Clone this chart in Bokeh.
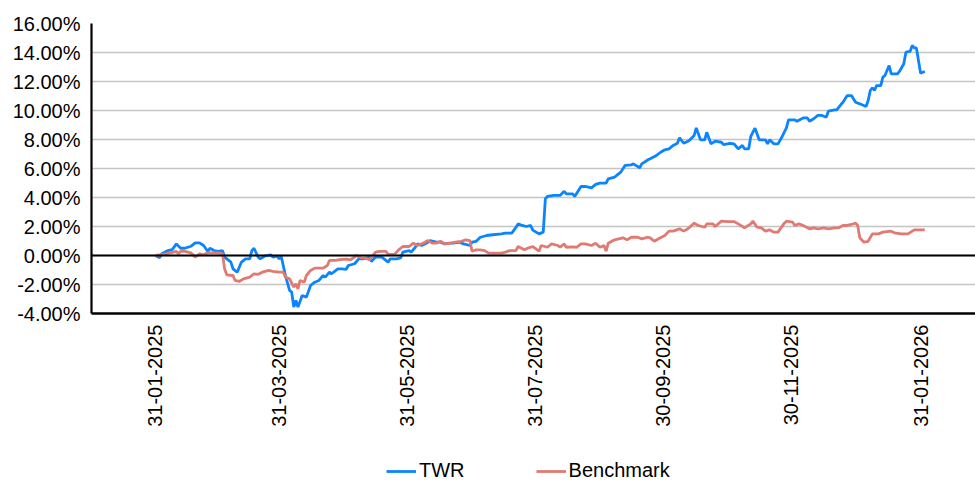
from bokeh.plotting import figure
from bokeh.models import (Range1d, FixedTicker, PrintfTickFormatter, Span, Legend, LegendItem)
from bokeh.layouts import column
from bokeh.embed import file_html
from bokeh.resources import INLINE
import math

# x = days since 31-01-2025
tick_days = [0, 59, 120, 181, 242, 303, 365]
tick_labels = ["31-01-2025", "31-03-2025", "31-05-2025", "31-07-2025",
               "30-09-2025", "30-11-2025", "31-01-2026"]
y_ticks = [-4, -2, 0, 2, 4, 6, 8, 10, 12, 14, 16]
series_names = ["TWR", "Benchmark"]

twr_day = [0, 2, 3, 6, 8, 10, 12, 14, 17, 19, 21, 23, 25, 26, 28, 30, 32, 33, 36, 37,
           39, 41, 43, 45, 46, 47, 49, 50, 52, 55, 56, 58, 59, 60, 62, 64, 65, 66, 67, 68,
           70, 72, 74, 76, 78, 80, 81, 83, 84, 87, 89, 91, 92, 95, 97, 99, 102, 103, 105, 108,
           111, 112, 115, 117, 118, 121, 122, 124, 125, 127, 130, 131, 134, 136, 138, 140, 142, 145, 147, 150,
           151, 153, 155, 158, 161, 165, 167, 170, 172, 173, 175, 177, 179, 180, 183, 185, 186, 187, 190, 193,
           195, 196, 199, 200, 203, 205, 208, 210, 212, 215, 216, 219, 220, 222, 224, 227, 228, 231, 232, 235,
           236, 239, 241, 243, 245, 247, 249, 250, 252, 254, 255, 257, 258, 259, 260, 262, 263, 265, 267, 270,
           271, 274, 276, 278, 280, 281, 283, 284, 286, 287, 288, 291, 292, 293, 295, 297, 299, 301, 302, 305,
           306, 309, 311, 312, 314, 316, 318, 320, 321, 324, 325, 327, 328, 330, 332, 334, 336, 339, 340, 341,
           342, 343, 344, 346, 347, 348, 350, 351, 354, 355, 357, 358, 360, 361, 362, 363, 365, 366, 367]
twr_val = [0.00, -0.15, 0.12, 0.34, 0.41, 0.80, 0.50, 0.50, 0.64, 0.87, 0.87, 0.69, 0.28, 0.50, 0.34, 0.28, 0.34, -0.11, -0.46, -0.92,
           -1.15, -0.46, -0.23, -0.23, 0.34, 0.50, -0.11, -0.23, -0.05, 0.05, -0.11, -0.05, -0.23, -0.05, -1.38, -2.41, -2.53, -3.56, -3.10, -3.56,
           -2.76, -2.87, -2.07, -1.84, -1.72, -1.38, -1.49, -1.15, -1.26, -0.92, -0.92, -0.95, -0.69, -0.57, -0.23, -0.23, -0.11, -0.41, -0.11, -0.11,
           -0.46, -0.23, -0.23, -0.16, 0.23, 0.34, 0.23, 0.57, 0.80, 0.69, 0.92, 1.03, 0.92, 0.92, 0.80, 0.85, 0.85, 0.92, 0.80, 0.69,
           0.92, 0.98, 1.26, 1.38, 1.43, 1.49, 1.54, 1.54, 1.95, 2.18, 2.07, 2.00, 2.07, 1.75, 1.49, 1.61, 3.91, 4.07, 4.14, 4.14,
           4.43, 4.25, 4.25, 4.07, 4.76, 4.76, 4.67, 4.90, 4.99, 4.99, 5.29, 5.40, 5.52, 5.75, 6.21, 6.25, 6.32, 6.05, 6.32, 6.60,
           6.67, 6.90, 7.12, 7.29, 7.36, 7.59, 7.74, 8.12, 7.74, 7.88, 7.98, 8.28, 8.80, 8.39, 7.98, 7.98, 8.50, 7.70, 7.88, 7.81,
           7.65, 7.74, 7.70, 7.36, 7.59, 7.36, 7.36, 8.21, 8.78, 8.39, 7.98, 7.98, 7.70, 7.98, 7.70, 7.70, 8.21, 8.80, 9.36, 9.36,
           9.26, 9.49, 9.49, 9.26, 9.43, 9.66, 9.66, 9.54, 9.95, 10.05, 10.05, 10.41, 10.57, 11.03, 11.03, 10.57, 10.46, 10.28, 10.69, 11.38,
           11.57, 11.38, 11.72, 11.72, 12.30, 12.41, 13.10, 12.53, 12.53, 12.71, 13.22, 14.02, 14.07, 14.48, 14.32, 14.32, 12.57, 12.64, 12.69]

bm_day = [0, 2, 5, 7, 10, 11, 12, 14, 17, 19, 21, 23, 25, 28, 30, 32, 33, 34, 37, 38,
          40, 42, 45, 47, 49, 51, 54, 56, 59, 61, 62, 64, 66, 67, 68, 69, 71, 72, 74, 76,
          80, 82, 83, 86, 88, 91, 93, 96, 98, 100, 102, 105, 107, 110, 111, 114, 116, 118, 121, 123,
          125, 127, 130, 132, 134, 136, 138, 141, 143, 146, 148, 150, 151, 153, 155, 157, 159, 162, 165, 167,
          169, 172, 173, 176, 178, 180, 183, 184, 187, 189, 192, 193, 195, 196, 199, 201, 203, 205, 208, 210,
          212, 214, 215, 216, 219, 221, 223, 225, 227, 230, 232, 235, 236, 238, 240, 243, 245, 247, 250, 252,
          254, 257, 259, 262, 263, 266, 267, 270, 273, 276, 278, 281, 284, 285, 287, 289, 291, 293, 295, 297,
          300, 301, 304, 305, 307, 309, 312, 314, 316, 319, 321, 324, 326, 328, 330, 332, 334, 335, 336, 338,
          340, 342, 345, 347, 351, 353, 356, 359, 362, 364, 367]
bm_val = [0.00, 0.05, 0.12, 0.18, 0.28, 0.12, 0.28, 0.28, 0.18, -0.11, 0.12, 0.05, 0.18, 0.18, 0.18, 0.12, -0.92, -1.33, -1.38, -1.72,
          -1.79, -1.61, -1.49, -1.26, -1.30, -1.15, -1.03, -1.10, -1.15, -1.15, -1.49, -1.61, -2.18, -1.95, -2.30, -1.72, -1.84, -1.38, -1.03, -0.87,
          -0.87, -0.69, -0.34, -0.34, -0.28, -0.25, -0.30, 0.00, -0.16, -0.16, -0.30, 0.23, 0.28, 0.28, 0.07, 0.07, 0.39, 0.62, 0.62, 0.85,
          0.69, 0.80, 1.03, 0.85, 0.85, 0.98, 0.80, 0.85, 0.92, 0.98, 1.08, 1.03, 0.30, 0.39, 0.39, 0.34, 0.16, 0.16, 0.16, 0.23,
          0.34, 0.34, 0.62, 0.39, 0.53, 0.62, 0.30, 0.69, 0.57, 0.80, 0.69, 0.57, 0.80, 0.57, 0.60, 0.57, 0.80, 0.80, 0.69, 0.85,
          0.57, 0.69, 0.30, 0.85, 1.08, 1.15, 1.22, 1.08, 1.26, 1.26, 1.15, 1.26, 1.22, 0.98, 1.15, 1.38, 1.68, 1.68, 1.84, 1.68,
          1.84, 2.23, 2.07, 1.95, 2.18, 2.18, 2.00, 2.37, 2.34, 2.34, 2.18, 1.91, 2.18, 2.37, 1.95, 1.91, 1.68, 1.77, 1.61, 1.61,
          2.23, 2.37, 2.30, 2.07, 2.18, 2.07, 1.84, 1.91, 1.84, 1.91, 1.84, 1.91, 1.91, 2.07, 2.07, 2.14, 2.23, 2.07, 1.22, 0.92,
          0.98, 1.49, 1.49, 1.61, 1.68, 1.54, 1.49, 1.49, 1.77, 1.77, 1.77]

FONT = "Liberation Sans"
BLUE = "#0A84FF"
SALMON = "#E07A72"

# ---------------- main chart ----------------
p = figure(width=975, height=451, output_backend="svg", toolbar_location=None,
           x_range=Range1d(-30.5, 391.2), y_range=Range1d(-4, 16),
           min_border_left=91, min_border_right=0, min_border_top=23, min_border_bottom=138)
p.outline_line_color = None
p.background_fill_color = "white"

p.xgrid.visible = False
p.ygrid.ticker = FixedTicker(ticks=y_ticks)
p.ygrid.grid_line_color = "#c4c4c4"
p.ygrid.grid_line_width = 1.6

p.yaxis.ticker = FixedTicker(ticks=y_ticks)
p.yaxis.formatter = PrintfTickFormatter(format="%.2f%%")
p.yaxis.major_tick_in = 0
p.yaxis.major_tick_out = 0
p.yaxis.minor_tick_in = 0
p.yaxis.minor_tick_out = 0
p.yaxis.major_label_standoff = 11
p.yaxis.axis_line_color = "black"
p.yaxis.axis_line_width = 2.2
p.yaxis.major_label_text_font = FONT
p.yaxis.major_label_text_font_size = "20px"
p.yaxis.major_label_text_color = "black"

p.xaxis.ticker = FixedTicker(ticks=tick_days)
p.xaxis.major_label_overrides = {d: l for d, l in zip(tick_days, tick_labels)}
p.xaxis.major_label_orientation = math.pi / 2
p.xaxis.major_tick_in = 0
p.xaxis.major_tick_out = 0
p.xaxis.minor_tick_in = 0
p.xaxis.minor_tick_out = 0
p.xaxis.major_label_standoff = 11
p.xaxis.axis_line_color = "black"
p.xaxis.axis_line_width = 2.5
p.xaxis.major_label_text_font = FONT
p.xaxis.major_label_text_font_size = "20px"
p.xaxis.major_label_text_color = "black"

p.add_layout(Span(location=0, dimension="width", line_color="black", line_width=1.8))

p.line(twr_day, twr_val, line_color=BLUE, line_width=2.8)
p.line(bm_day, bm_val, line_color=SALMON, line_width=2.8)

# ---------------- legend strip ----------------
leg = figure(width=975, height=31, output_backend="svg", toolbar_location=None,
             x_range=Range1d(0, 1), y_range=Range1d(0, 1), min_border=0)
leg.axis.visible = False
leg.grid.visible = False
leg.outline_line_color = None
# off-range samples: only their legend glyphs are visible
l1 = leg.line([-5, -4], [0, 0], line_color=BLUE, line_width=2.8)
l2 = leg.line([-5, -4], [0, 0], line_color=SALMON, line_width=2.8)

legend = Legend(items=[LegendItem(label=series_names[0], renderers=[l1]),
                       LegendItem(label=series_names[1], renderers=[l2])],
                orientation="horizontal", location=(295, 0),
                label_text_font=FONT, label_text_font_size="20px", label_text_color="black",
                glyph_width=30, glyph_height=20, label_height=20, label_standoff=3, spacing=71,
                padding=0, margin=0, border_line_color=None, background_fill_alpha=0)
leg.add_layout(legend)

layout = column(p, leg, spacing=0)
open("out.html", "w").write(file_html(layout, INLINE))
